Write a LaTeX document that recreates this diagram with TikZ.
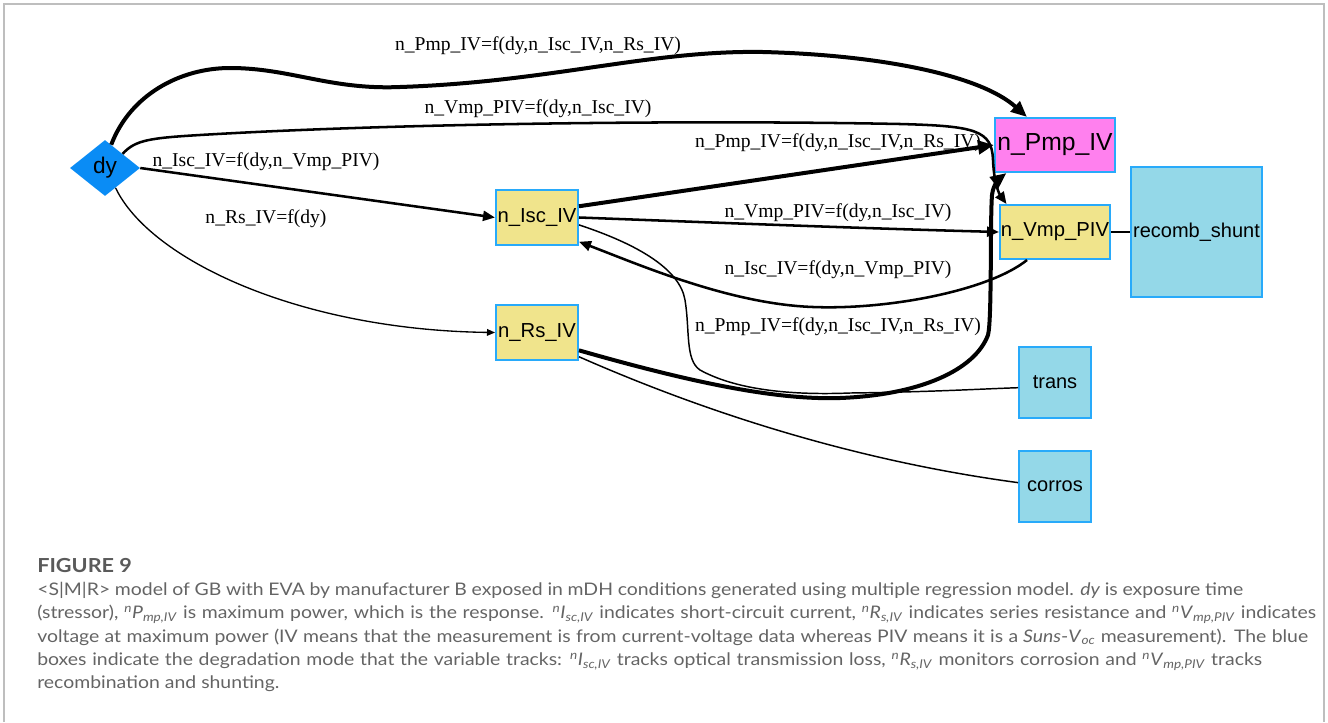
\documentclass[tikz,border=0pt]{standalone}
\usepackage{fontspec}
\setmainfont{Liberation Serif}
\newfontfamily\arialf{Liberation Sans}
\newfontfamily\capfont[FakeStretch=1.12]{Lato}
\usetikzlibrary{shapes.geometric,arrows.meta,calc}
\definecolor{dyblue}{RGB}{10,140,245}
\definecolor{bordblue}{RGB}{40,170,250}
\definecolor{khaki}{RGB}{240,228,140}
\definecolor{magbox}{RGB}{255,128,238}
\definecolor{cyanbox}{RGB}{148,216,232}
\definecolor{capgray}{RGB}{100,100,100}
\definecolor{framegray}{RGB}{190,190,190}
\newcommand\cvar[3]{\textsuperscript{\textit{#1}}\textit{#2}\textsubscript{\textit{#3}}}
\tikzset{
  varbox/.style={draw=bordblue, line width=1.5pt, fill=khaki, inner sep=0pt, font=\arialf\fontsize{15.2pt}{17pt}\selectfont},
  modebox/.style={draw=bordblue, line width=1.5pt, fill=cyanbox, inner sep=0pt, font=\arialf\fontsize{15pt}{17pt}\selectfont},
  elabel/.style={font=\fontsize{14.7pt}{17pt}\selectfont, inner sep=0pt},
  thickedge/.style={line width=3pt, -{Triangle[length=12pt,width=10pt]}},
  midedge/.style={line width=1.9pt, -{Triangle[length=9pt,width=7.5pt]}},
  thinedge/.style={line width=1pt, -{Triangle[length=6pt,width=5pt]}},
  plainedge/.style={line width=1.1pt},
  capline/.style={anchor=base west, inner sep=0pt, text=capgray, font=\capfont\fontsize{13pt}{16pt}\selectfont}
}
\begin{document}
\begin{tikzpicture}[x=0.75pt,y=-0.75pt]
\useasboundingbox (0,0) rectangle (1328,722);
% frame
\draw[framegray, line width=1.2pt] (4,722) -- (4,4) -- (1324,4) -- (1324,722);
% nodes
\node[diamond, fill=dyblue, inner sep=0pt, minimum width=52.5pt, minimum height=42pt, font=\arialf\fontsize{17pt}{19pt}\selectfont] (dy) at (105,168) {dy};
\node[varbox, minimum width=61.5pt, minimum height=41.25pt] (isc) at (537,217.5) {n\_Isc\_IV};
\node[varbox, minimum width=61.5pt, minimum height=41.25pt] (rs) at (537,332.5) {n\_Rs\_IV};
\node[varbox, fill=magbox, minimum width=90pt, minimum height=40.5pt, font=\arialf\fontsize{18.5pt}{20pt}\selectfont] (pmp) at (1055,145) {n\_Pmp\_IV};
\node[varbox, minimum width=82.5pt, minimum height=40.5pt] (vmp) at (1055,232) {n\_Vmp\_PIV};
\node[modebox, minimum width=98.25pt, minimum height=97.5pt] (recomb) at (1196.5,232) {recomb\_shunt};
\node[modebox, minimum width=54pt, minimum height=53.25pt] (trans) at (1055,382.5) {trans};
\node[modebox, minimum width=54pt, minimum height=53.25pt] (corros) at (1055,486.5) {corros};
% edges
\draw[thickedge] (dy.75) .. controls (130,95) and (180,68) .. (230,68)
  .. controls (290,68) and (330,90) .. (400,87)
  .. controls (550,82) and (650,50) .. (763,52)
  .. controls (880,55) and (980,75) .. (pmp.135);
\draw[midedge] (dy.north east) .. controls (135,140) and (150,138) .. (200,135)
  .. controls (400,123) and (700,120) .. (900,124)
  .. controls (975,126) and (992,130) .. (993,160)
  .. controls (994,185) and (1000,195) .. (vmp.150);
\draw[midedge] (dy.east) -- (isc.west);
\draw[thinedge] (dy.-62) .. controls (150,260) and (300,330) .. (rs.west);
\draw[thickedge] (isc.15) -- (pmp.west);
\draw[midedge] (isc.east) .. controls (700,222) and (850,228) .. (vmp.west);
\draw[midedge] (vmp.-135) .. controls (990,290) and (890,310) .. (813,307)
  .. controls (730,304) and (640,265) .. (isc.-30);
\draw[thickedge] (rs.-23) .. controls (700,385) and (780,400) .. (840,398)
  .. controls (920,395) and (975,370) .. (988,335)
  .. controls (992,320) and (990,220) .. (992,195)
  .. controls (993,185) and (1000,178) .. (pmp.-150);
\draw[plainedge] (isc.-10) .. controls (640,245) and (680,270) .. (685,300)
  .. controls (690,330) and (685,360) .. (700,370)
  .. controls (740,392) and (800,395) .. (850,393)
  .. controls (930,392) and (980,389) .. (trans.-172);
\draw[plainedge] (rs.-30) .. controls (700,410) and (850,460) .. (corros.174);
\draw[plainedge] (vmp.east) -- (recomb.west);
% edge labels
\node[elabel] (l1) at (538,46) {n\_Pmp\_IV=f(dy,n\_Isc\_IV,n\_Rs\_IV)};
\node[elabel] (l2) at (538,109) {n\_Vmp\_PIV=f(dy,n\_Isc\_IV)};
\node[elabel] (l3) at (266,162) {n\_Isc\_IV=f(dy,n\_Vmp\_PIV)};
\node[elabel] (l4) at (266,219) {n\_Rs\_IV=f(dy)};
\node[elabel] (l5) at (838,143) {n\_Pmp\_IV=f(dy,n\_Isc\_IV,n\_Rs\_IV)};
\node[elabel] (l6) at (838,213) {n\_Vmp\_PIV=f(dy,n\_Isc\_IV)};
\node[elabel] (l7) at (838,270) {n\_Isc\_IV=f(dy,n\_Vmp\_PIV)};
\node[elabel] (l8) at (838,327) {n\_Pmp\_IV=f(dy,n\_Isc\_IV,n\_Rs\_IV)};
% caption
\node[capline, font=\capfont\bfseries\fontsize{14.5pt}{16pt}\selectfont, text=capgray!90!black] (fig) at (37,572) {FIGURE 9};
\node[capline] (c1) at (37,595) {\makebox[904.5pt][s]{<S|M|R> model of GB with EVA by manufacturer B exposed in mDH conditions generated using multiple regression model. \textit{dy} is exposure time}};
\node[capline] (c2) at (37,618) {\makebox[959.25pt][s]{(stressor), \cvar{n}{P}{mp,IV} is maximum power, which is the response. \cvar{n}{I}{sc,IV} indicates short-circuit current, \cvar{n}{R}{s,IV} indicates series resistance and \cvar{n}{V}{mp,PIV} indicates}};
\node[capline] (c3) at (37,642) {\makebox[953.25pt][s]{voltage at maximum power (IV means that the measurement is from current-voltage data whereas PIV means it is a \textit{Suns}-\textit{V}\textsubscript{\textit{oc}} measurement). The blue}};
\node[capline] (c4) at (37,665) {\makebox[918.75pt][s]{boxes indicate the degradation mode that the variable tracks: \cvar{n}{I}{sc,IV} tracks optical transmission loss, \cvar{n}{R}{s,IV} monitors corrosion and \cvar{n}{V}{mp,PIV} tracks}};
\node[capline] (c5) at (37,688) {recombination and shunting.};
\end{tikzpicture}
\end{document}
